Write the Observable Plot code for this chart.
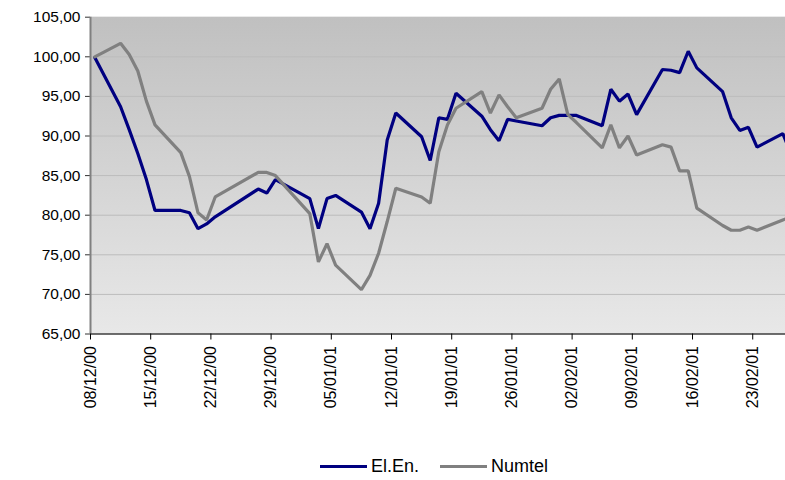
<!DOCTYPE html>
<html><head><meta charset="utf-8">
<script src="https://cdn.jsdelivr.net/npm/d3@7"></script>
<script src="https://cdn.jsdelivr.net/npm/@observablehq/plot@0.6"></script>
<style>
body{margin:0;background:#fff;font-family:"Liberation Sans",Arial,sans-serif;}
#wrap{position:relative;width:785px;height:480px;overflow:hidden;}
.item{position:absolute;top:455px;height:22px;display:flex;align-items:center;font-size:18px;color:#000;white-space:nowrap;}
.sw{display:inline-block;width:47px;height:3px;margin-right:4px;}
</style></head><body><div id="wrap"></div>
<script>
const dates = [
 "2000-12-08",
 "2000-12-11","2000-12-12","2000-12-13","2000-12-14","2000-12-15",
 "2000-12-18","2000-12-19","2000-12-20","2000-12-21","2000-12-22",
 "2000-12-27","2000-12-28","2000-12-29",
 "2001-01-02","2001-01-03","2001-01-04","2001-01-05",
 "2001-01-08","2001-01-09","2001-01-10","2001-01-11","2001-01-12",
 "2001-01-15","2001-01-16","2001-01-17","2001-01-18","2001-01-19",
 "2001-01-22","2001-01-23","2001-01-24","2001-01-25","2001-01-26",
 "2001-01-29","2001-01-30","2001-01-31","2001-02-01","2001-02-02",
 "2001-02-05","2001-02-06","2001-02-07","2001-02-08","2001-02-09",
 "2001-02-12","2001-02-13","2001-02-14","2001-02-15","2001-02-16",
 "2001-02-19","2001-02-20","2001-02-21","2001-02-22","2001-02-23",
 "2001-02-26","2001-02-27"
];
const elen = [
 99.9,
 93.7,90.8,87.8,84.5,80.6,
 80.6,80.3,78.3,78.9,79.8,
 83.3,82.8,84.5,
 82.1,78.3,82.1,82.5,
 80.4,78.3,81.5,89.5,92.9,
 89.9,86.9,92.3,92.1,95.4,
 92.5,90.8,89.4,92.1,91.9,
 91.3,92.3,92.6,92.6,92.6,
 91.3,95.9,94.4,95.3,92.7,
 98.4,98.3,98.0,100.7,98.6,
 95.6,92.3,90.7,91.1,88.6,
 90.3,87.6
];
const numtel = [
 100.0,
 101.7,100.3,98.2,94.4,91.4,
 87.9,84.9,80.3,79.4,82.3,
 85.4,85.4,85.0,
 80.2,74.1,76.4,73.7,
 70.6,72.4,75.2,79.2,83.4,
 82.3,81.5,88.0,91.4,93.5,
 95.6,92.9,95.2,93.7,92.3,
 93.5,95.9,97.2,92.7,91.7,
 88.5,91.4,88.5,90.0,87.6,
 88.9,88.6,85.6,85.6,80.9,
 78.7,78.1,78.1,78.5,78.1,
 79.4,79.8
];
const tickDates = ["2000-12-08","2000-12-15","2000-12-22","2000-12-29","2001-01-05","2001-01-12","2001-01-19","2001-01-26","2001-02-02","2001-02-09","2001-02-16","2001-02-23"];
const yTicks = [65,70,75,80,85,90,95,100,105];
const seriesNames = ["El.En.","Numtel"];
const seriesColors = ["#000080","#808080"];

const atNoon = s => new Date(s + "T12:00:00Z");
const atMidnight = s => new Date(s + "T00:00:00Z");
const rows = [];
dates.forEach((d,i) => {
  rows.push({date: atNoon(d), value: elen[i], series: seriesNames[0]});
  rows.push({date: atNoon(d), value: numtel[i], series: seriesNames[1]});
});
const x0 = atMidnight(dates[0]);
const x1 = new Date(x0.getTime() + 80.81 * 864e5);
const fmtY = v => d3.format(".2f")(v).replace(".", ",");

const chart = Plot.plot({
  width: 785, height: 445,
  marginLeft: 90, marginRight: 0, marginTop: 16.7, marginBottom: 111.5,
  style: {fontFamily: '"Liberation Sans", Arial, sans-serif', fontSize: "15px", background: "transparent", color: "#000"},
  x: {type: "utc", domain: [x0, x1]},
  y: {domain: [65, 105]},
  color: {domain: seriesNames, range: seriesColors},
  marks: [
    Plot.frame({fill: "url(#bgGrad)", stroke: null}),
    Plot.gridY(yTicks, {stroke: "#bcbcbc", strokeOpacity: 1}),
    Plot.axisY(yTicks, {label: null, tickFormat: fmtY, tickSize: 5, tickPadding: 5, fontSize: 15.5, stroke: "#333"}),
    Plot.axisX(tickDates.map(atMidnight), {label: null, tickFormat: d3.utcFormat("%d/%m/%y"), tickRotate: -90, tickSize: 6, tickPadding: 6, fontSize: 16, stroke: "#000"}),
    Plot.ruleX([x0], {stroke: "#808080", strokeWidth: 2}),
    Plot.ruleY([65], {stroke: "#000", strokeWidth: 1.2}),
    Plot.line(rows, {x: "date", y: "value", z: "series", stroke: "series", strokeWidth: 3.2, clip: true, strokeLinejoin: "miter"})
  ]
});
const svg = d3.select(chart);
const defs = svg.insert("defs", ":first-child");
const g = defs.append("linearGradient").attr("id", "bgGrad").attr("x1", 0).attr("y1", 0).attr("x2", 0).attr("y2", 1);
g.append("stop").attr("offset", "0%").attr("stop-color", "#c0c0c0");
g.append("stop").attr("offset", "100%").attr("stop-color", "#e8e8e8");

const wrap = document.getElementById("wrap");
wrap.appendChild(chart);
const legendLeft = [320, 440];
seriesNames.forEach((name, i) => {
  const it = document.createElement("div");
  it.className = "item";
  it.style.left = legendLeft[i] + "px";
  const sw = document.createElement("span");
  sw.className = "sw";
  sw.style.background = seriesColors[i];
  const tx = document.createElement("span");
  tx.textContent = name;
  it.appendChild(sw); it.appendChild(tx);
  wrap.appendChild(it);
});
</script>
</body></html>
